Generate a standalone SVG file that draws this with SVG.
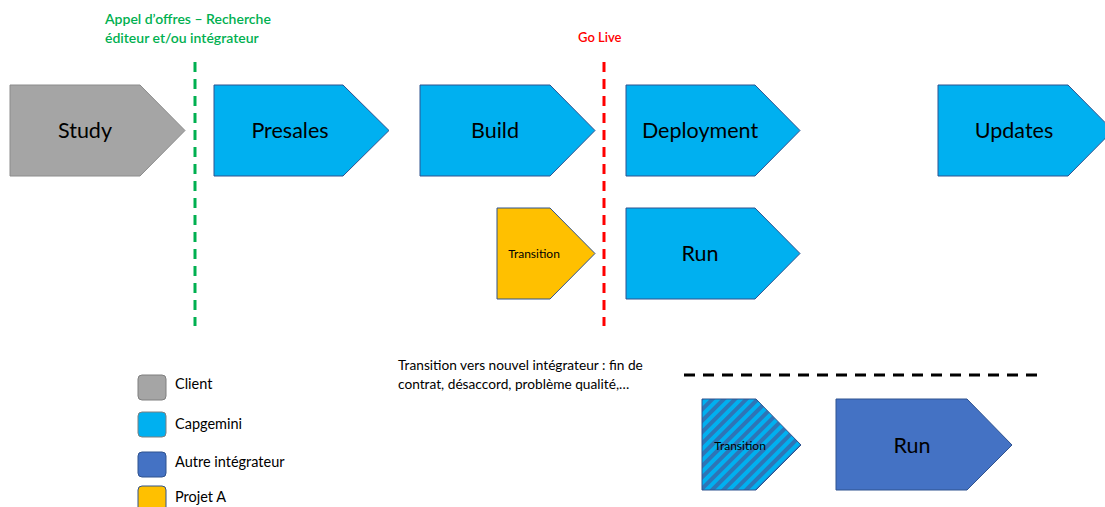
<svg xmlns="http://www.w3.org/2000/svg" width="1105" height="507" viewBox="0 0 1105 507">
<style>
text{font-family:Lato,"Open Sans","Liberation Sans",sans-serif;fill:#000}
.lbl{font-size:21.5px;text-anchor:middle}
.sm{font-size:12px;text-anchor:middle}
.note{font-size:13.7px}
.leg{font-size:14.5px}
.shape{stroke:#2F528F;stroke-width:1}
.client{fill:#A5A5A5;stroke:#8C8C8C}
.cap{fill:#00B0F0}
.autre{fill:#4472C4}
.proj{fill:#FFC000}
.box{stroke:#7F7F7F;stroke-width:1}
</style>
<defs>
<pattern id="hatch" width="8" height="8" patternUnits="userSpaceOnUse" patternTransform="rotate(45)">
<rect width="8" height="8" fill="#00B0F0"/>
<rect width="4" height="8" fill="#2E75B6"/>
</pattern>
</defs>
<rect width="1105" height="507" fill="#fff"/>

<g id="markers">
<line x1="195" y1="62" x2="195" y2="326" stroke="#00B050" stroke-width="3" stroke-dasharray="10,7"/>
<line x1="604" y1="62" x2="604" y2="326" stroke="#FF0000" stroke-width="3" stroke-dasharray="10,7"/>
<line x1="684" y1="375" x2="1040" y2="375" stroke="#000" stroke-width="3" stroke-dasharray="11,8"/>
<text x="105" y="24" style="font-size:14px;fill:#00B050;font-weight:600">Appel d’offres – Recherche</text>
<text x="105" y="43" style="font-size:14px;fill:#00B050;font-weight:600">éditeur et/ou intégrateur</text>
<text x="578" y="42" style="font-size:13px;fill:#FF0000;font-weight:600">Go Live</text>
</g>

<g id="connectors"></g>

<g id="study">
<polygon class="shape client" points="10,85 140,85 185,130.5 140,176 10,176"/>
<text class="lbl" x="85" y="138">Study</text>
</g>
<g id="presales">
<polygon class="shape cap" points="214,85 343,85 389,130.5 343,176 214,176"/>
<text class="lbl" x="290" y="138">Presales</text>
</g>
<g id="build">
<polygon class="shape cap" points="420,85 550,85 595,130.5 550,176 420,176"/>
<text class="lbl" x="495" y="138">Build</text>
</g>
<g id="deployment">
<polygon class="shape cap" points="626,85 755,85 800,130.5 755,176 626,176"/>
<text class="lbl" x="700" y="138">Deployment</text>
</g>
<g id="updates">
<polygon class="shape cap" points="938,85 1068,85 1113,130.5 1068,176 938,176"/>
<text class="lbl" x="1014" y="138">Updates</text>
</g>
<g id="transition-a">
<polygon class="shape proj" points="497,208 550,208 595,253.5 550,299 497,299"/>
<text class="sm" x="534" y="258">Transition</text>
</g>
<g id="run-cap">
<polygon class="shape cap" points="626,208 755,208 800,253.5 755,299 626,299"/>
<text class="lbl" x="700" y="261">Run</text>
</g>
<g id="transition-new">
<polygon class="shape" fill="url(#hatch)" points="702,399 756,399 801,445 756,490 702,490"/>
<text class="sm" x="740" y="450">Transition</text>
</g>
<g id="run-autre">
<polygon class="shape autre" points="836,399 967,399 1012,445 967,490 836,490"/>
<text class="lbl" x="912" y="453">Run</text>
</g>

<g id="note">
<text class="note" x="398" y="370">Transition vers nouvel intégrateur : fin de</text>
<text class="note" x="398" y="389">contrat, désaccord, problème qualité,…</text>
</g>

<g id="legend">
<rect class="box" x="138" y="375" width="28" height="25" rx="4" fill="#A5A5A5"/>
<text class="leg" x="175" y="389">Client</text>
<rect class="box" x="138" y="412" width="28" height="25" rx="4" fill="#00B0F0"/>
<text class="leg" x="175" y="429">Capgemini</text>
<rect x="138" y="452" width="28" height="25" rx="4" fill="#4472C4" stroke="#2F528F"/>
<text class="leg" x="175" y="467">Autre intégrateur</text>
<rect x="138" y="486" width="28" height="25" rx="4" fill="#FFC000" stroke="#2F528F"/>
<text class="leg" x="175" y="502">Projet A</text>
</g>
</svg>
